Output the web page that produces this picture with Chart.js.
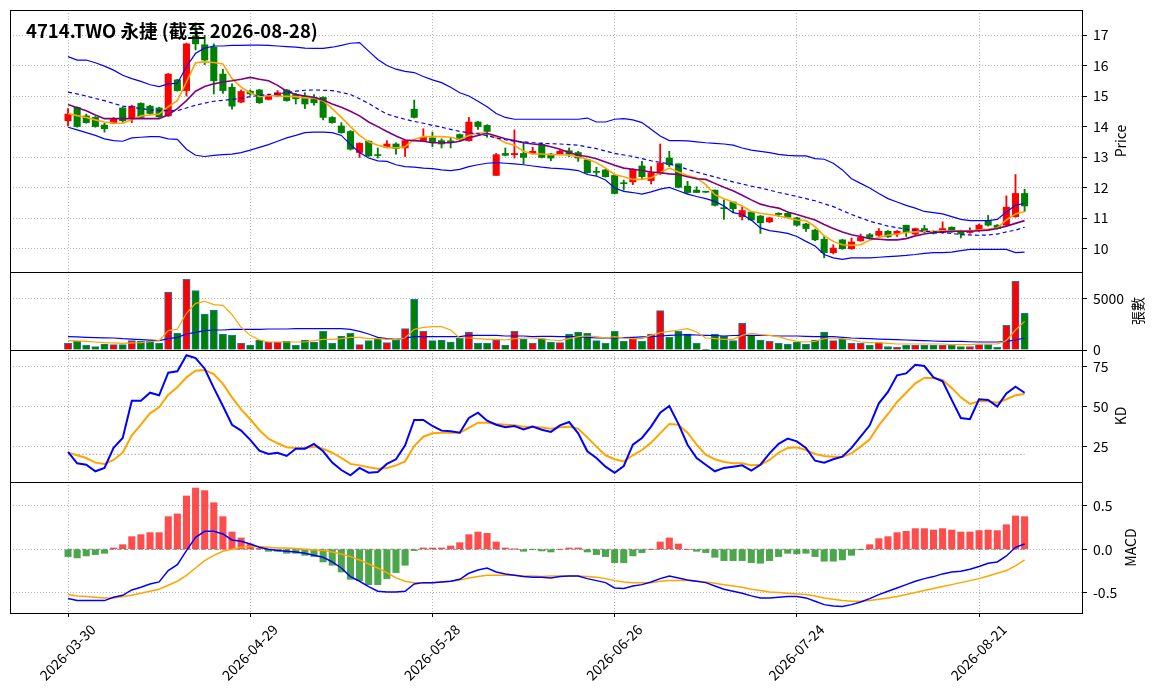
<!DOCTYPE html>
<html>
<head>
<meta charset="utf-8">
<script src="https://cdn.jsdelivr.net/npm/chart.js@4.4.1/dist/chart.umd.min.js"></script>
<style>
  body { margin: 0; background: #fff; width: 1155px; height: 698px; position: relative; overflow: hidden; }
  canvas { position: absolute; left: 0; }
</style>
</head>
<body>
<canvas id="cPrice" width="1155" height="290" style="top:0px"></canvas>
<canvas id="cVol" width="1155" height="100" style="top:262px"></canvas>
<canvas id="cKD" width="1155" height="155" style="top:340px"></canvas>
<canvas id="cMacd" width="1155" height="226" style="top:472px"></canvas>
<script>
// --- data ---
var dates = [
  '2026-03-30','2026-03-31','2026-04-01','2026-04-02','2026-04-07','2026-04-08','2026-04-09','2026-04-10',
  '2026-04-13','2026-04-14','2026-04-15','2026-04-16','2026-04-17','2026-04-20','2026-04-21','2026-04-22',
  '2026-04-23','2026-04-24','2026-04-27','2026-04-28','2026-04-29','2026-04-30',
  '2026-05-04','2026-05-05','2026-05-06','2026-05-07','2026-05-08','2026-05-11','2026-05-12','2026-05-13',
  '2026-05-14','2026-05-15','2026-05-18','2026-05-19','2026-05-20','2026-05-21','2026-05-22','2026-05-25',
  '2026-05-26','2026-05-27','2026-05-28','2026-05-29',
  '2026-06-01','2026-06-02','2026-06-03','2026-06-04','2026-06-05','2026-06-08','2026-06-09','2026-06-10',
  '2026-06-11','2026-06-12','2026-06-15','2026-06-16','2026-06-17','2026-06-18','2026-06-22','2026-06-23',
  '2026-06-24','2026-06-25','2026-06-26','2026-06-29','2026-06-30',
  '2026-07-01','2026-07-02','2026-07-03','2026-07-06','2026-07-07','2026-07-08','2026-07-09','2026-07-10',
  '2026-07-13','2026-07-14','2026-07-15','2026-07-16','2026-07-17','2026-07-20','2026-07-21','2026-07-22',
  '2026-07-23','2026-07-24','2026-07-27','2026-07-28','2026-07-29','2026-07-30','2026-07-31',
  '2026-08-03','2026-08-04','2026-08-05','2026-08-06','2026-08-07','2026-08-10','2026-08-11','2026-08-12',
  '2026-08-13','2026-08-14','2026-08-17','2026-08-18','2026-08-19','2026-08-20','2026-08-21','2026-08-24',
  '2026-08-25','2026-08-26','2026-08-27','2026-08-28'
];

var opens = [
  14.19,14.63,14.35,14.30,14.05,14.11,14.61,14.26,14.76,14.67,
  14.61,14.35,15.53,15.18,16.97,16.68,16.60,15.72,15.29,14.80,
  15.16,15.20,14.89,15.00,15.20,15.05,15.00,14.96,14.96,14.30,
  14.02,13.84,13.15,13.52,13.07,13.32,13.43,13.30,14.57,13.54,
  13.63,13.54,13.52,13.74,13.54,14.15,14.04,12.40,13.12,13.08,
  13.12,13.12,13.41,13.10,13.10,13.21,13.15,12.91,12.52,12.58,
  12.40,12.16,12.19,12.71,12.23,12.47,12.97,12.78,12.05,11.92,
  11.86,11.92,11.33,11.53,11.05,11.20,11.07,10.88,11.16,11.16,
  11.01,10.81,10.61,10.31,9.87,10.29,10.00,10.26,10.46,10.44,
  10.57,10.48,10.77,10.48,10.66,10.57,10.53,10.70,10.55,10.53,
  10.61,10.92,10.77,10.77,11.05,11.81
];
var highs = [
  14.59,14.65,14.41,14.33,14.11,14.30,14.63,14.70,14.78,14.70,
  14.63,15.74,15.55,16.73,17.40,16.99,16.71,15.88,15.40,15.20,
  15.20,15.22,15.07,15.18,15.22,15.09,15.11,15.05,14.98,14.33,
  14.13,13.87,13.47,13.54,13.30,13.54,13.47,13.56,14.87,13.93,
  13.82,13.60,13.63,13.76,14.30,14.17,14.06,13.12,13.30,13.89,
  13.50,13.32,13.47,13.12,13.23,13.30,13.19,12.93,12.67,12.60,
  12.43,12.25,12.62,12.86,12.69,13.43,13.19,12.78,12.21,12.03,
  11.87,11.92,11.60,11.53,11.36,11.22,11.09,11.03,11.18,11.18,
  11.03,10.83,10.64,10.42,10.13,10.31,10.35,10.48,10.50,10.66,
  10.59,10.59,10.77,10.68,10.77,10.59,10.88,10.72,10.61,10.68,
  10.81,11.09,10.79,11.73,12.43,11.95
];
var lows = [
  14.02,13.98,14.11,13.98,13.82,14.09,14.15,14.13,14.28,14.41,
  14.30,14.33,15.16,15.00,16.51,16.03,15.07,15.09,14.57,14.78,
  15.02,14.76,14.87,14.98,14.83,14.74,14.59,14.70,14.22,14.11,
  13.78,13.23,12.99,13.02,12.97,13.30,13.10,13.02,14.28,13.52,
  13.34,13.30,13.30,13.54,13.52,13.91,13.65,12.40,13.04,12.97,
  12.78,13.10,12.97,12.88,13.08,13.02,12.86,12.47,12.40,12.34,
  11.79,11.92,12.10,12.29,12.12,12.43,12.69,11.99,11.81,11.84,
  11.84,11.40,10.96,11.20,10.94,10.92,10.50,10.85,11.05,11.01,
  10.74,10.57,10.26,9.70,9.83,9.98,9.98,10.24,10.35,10.40,
  10.37,10.40,10.40,10.46,10.53,10.48,10.50,10.53,10.35,10.50,
  10.57,10.74,10.64,10.74,11.03,11.22
];
var closes = [
  14.41,14.00,14.13,14.00,13.93,14.24,14.19,14.67,14.30,14.43,
  14.32,15.72,15.18,16.71,16.71,16.18,15.50,15.18,14.67,15.15,
  15.07,14.78,15.02,15.11,14.85,14.91,14.74,14.78,14.30,14.13,
  13.80,13.26,13.45,13.04,13.05,13.43,13.28,13.54,14.30,13.65,
  13.47,13.43,13.50,13.58,14.15,14.00,13.84,13.08,13.06,13.12,
  12.99,13.19,12.99,12.97,13.19,13.10,12.97,12.49,12.50,12.36,
  11.81,12.13,12.60,12.36,12.49,12.80,12.75,12.01,11.84,11.84,
  11.85,11.42,11.31,11.31,11.25,10.94,10.85,11.01,11.12,11.03,
  10.77,10.66,10.29,9.87,10.02,10.00,10.22,10.37,10.37,10.57,
  10.39,10.57,10.53,10.66,10.55,10.50,10.66,10.55,10.48,10.57,
  10.77,10.77,10.66,11.36,11.81,11.40
];
var ma5 = [
  14.43,14.36,14.30,14.22,14.15,14.12,14.11,14.22,14.35,14.38,
  14.41,14.65,14.85,15.46,16.09,16.12,16.10,16.05,15.57,15.29,
  15.11,14.98,15.02,15.00,14.99,14.98,14.94,14.94,14.85,14.59,
  14.30,14.00,13.71,13.50,13.39,13.32,13.30,13.34,13.58,13.67,
  13.67,13.67,13.65,13.58,13.71,13.80,13.78,13.63,13.47,13.39,
  13.19,13.10,13.10,13.08,13.08,13.06,13.01,12.93,12.82,12.64,
  12.43,12.36,12.27,12.27,12.32,12.49,12.64,12.51,12.40,12.32,
  12.10,11.77,11.64,11.53,11.40,11.22,11.16,11.12,11.07,11.01,
  10.94,10.92,10.72,10.42,10.24,10.13,10.11,10.13,10.28,10.37,
  10.44,10.48,10.53,10.55,10.57,10.57,10.59,10.59,10.59,10.59,
  10.61,10.64,10.68,10.94,11.14,11.22
];
var ma10 = [
  14.72,14.62,14.52,14.38,14.26,14.26,14.26,14.26,14.26,14.26,
  14.26,14.39,14.59,14.85,15.16,15.31,15.40,15.46,15.50,15.55,
  15.61,15.55,15.50,15.35,15.16,15.05,15.00,14.96,14.87,14.74,
  14.63,14.50,14.35,14.15,14.00,13.84,13.69,13.56,13.54,13.52,
  13.47,13.47,13.47,13.52,13.63,13.71,13.78,13.69,13.60,13.54,
  13.47,13.43,13.41,13.34,13.26,13.15,13.06,13.02,12.95,12.84,
  12.73,12.64,12.60,12.56,12.51,12.49,12.45,12.43,12.36,12.29,
  12.27,12.14,12.01,11.90,11.75,11.60,11.46,11.38,11.33,11.20,
  11.12,11.03,10.94,10.79,10.66,10.55,10.46,10.40,10.33,10.31,
  10.29,10.29,10.33,10.42,10.48,10.53,10.55,10.57,10.57,10.57,
  10.59,10.61,10.66,10.74,10.83,10.92
];
var bbUpper = [
  16.29,16.18,16.18,16.09,15.98,15.85,15.68,15.57,15.48,15.37,
  15.31,15.40,15.42,15.96,16.40,16.57,16.64,16.64,16.66,16.66,
  16.67,16.67,16.66,16.64,16.62,16.60,16.57,16.56,16.56,16.60,
  16.66,16.73,16.75,16.47,16.20,16.00,15.88,15.81,15.77,15.64,
  15.53,15.44,15.29,15.11,15.00,14.83,14.65,14.43,14.30,14.24,
  14.24,14.24,14.24,14.24,14.24,14.24,14.24,14.28,14.15,14.15,
  14.24,14.26,14.22,14.13,13.91,13.69,13.54,13.54,13.53,13.50,
  13.47,13.45,13.43,13.39,13.30,13.23,13.19,13.15,13.09,13.06,
  13.04,13.04,12.95,12.93,12.80,12.58,12.29,12.14,11.99,11.81,
  11.64,11.53,11.42,11.33,11.22,11.18,11.14,11.05,10.96,10.92,
  10.92,10.92,10.96,11.20,11.42,11.49
];
var bbMid = [
  15.13,15.07,15.00,14.92,14.85,14.76,14.67,14.63,14.59,14.55,
  14.52,14.52,14.52,14.61,14.70,14.77,14.83,14.86,14.89,14.93,
  14.98,15.02,15.05,15.08,15.11,15.16,15.19,15.20,15.19,15.18,
  15.12,15.05,14.91,14.76,14.58,14.41,14.32,14.24,14.17,14.11,
  14.04,13.98,13.91,13.84,13.80,13.76,13.70,13.63,13.57,13.52,
  13.50,13.47,13.45,13.44,13.43,13.41,13.39,13.33,13.28,13.20,
  13.12,13.07,13.02,12.95,12.88,12.83,12.78,12.69,12.60,12.51,
  12.43,12.35,12.27,12.19,12.12,12.05,11.99,11.92,11.84,11.78,
  11.71,11.64,11.57,11.47,11.38,11.25,11.12,11.01,10.90,10.82,
  10.74,10.69,10.64,10.60,10.57,10.55,10.53,10.50,10.46,10.45,
  10.44,10.45,10.48,10.55,10.61,10.70
];
var bbLower = [
  13.98,13.89,13.80,13.71,13.60,13.54,13.52,13.63,13.65,13.67,
  13.67,13.60,13.58,13.26,13.06,13.02,13.06,13.08,13.10,13.15,
  13.23,13.32,13.41,13.52,13.63,13.71,13.80,13.82,13.82,13.80,
  13.71,13.41,13.15,12.97,12.88,12.86,12.75,12.69,12.67,12.64,
  12.62,12.58,12.56,12.60,12.69,12.75,12.80,12.82,12.80,12.78,
  12.75,12.71,12.67,12.64,12.62,12.60,12.56,12.43,12.38,12.25,
  11.99,11.88,11.84,11.79,11.86,11.95,12.01,11.90,11.79,11.71,
  11.64,11.55,11.40,11.18,11.12,10.94,10.68,10.59,10.55,10.50,
  10.40,10.24,10.09,9.81,9.70,9.65,9.70,9.70,9.70,9.72,
  9.74,9.76,9.78,9.81,9.85,9.87,9.87,9.89,9.94,9.98,
  9.98,9.98,9.98,9.98,9.87,9.89
];
var volumes = [
  645,840,450,320,580,516,516,900,840,840,
  645,5613,1613,6840,5742,3484,3871,1548,1419,645,
  450,968,774,774,840,450,968,774,1806,645,
  1355,1613,516,903,1097,710,968,2065,4903,1806,
  903,968,774,1161,1742,645,645,968,450,1806,
  1032,645,1097,774,710,1548,1742,1613,903,645,
  1806,839,1097,839,1548,3807,1226,1806,1548,645,
  60,1548,1355,903,2581,1419,968,839,645,580,
  774,580,968,1742,903,1032,645,645,452,710,
  323,258,452,452,452,452,452,452,323,323,
  516,516,258,2387,6645,3548
];
var volMa5 = [
  903,880,839,774,710,680,645,680,710,800,
  903,1871,2000,3549,4516,4710,4387,4323,3420,2194,
  1419,968,774,774,774,774,774,903,1032,1032,
  1097,1226,1226,1097,1097,1032,1032,1161,2000,2194,
  2258,2258,1935,1161,1161,1097,1032,1032,968,1097,
  1161,1161,1100,968,903,1097,1290,1355,1290,1161,
  1290,1161,1097,1097,1419,1677,1806,1935,2065,1742,
  1161,1097,1032,1032,1419,1613,1484,1419,1290,1032,
  839,774,839,1097,1161,1097,968,774,710,710,
  645,580,580,580,580,580,580,516,516,516,
  580,580,580,903,1935,2774
];
var volMa20 = [
  1290,1260,1230,1200,1180,1160,1100,1060,1000,950,
  903,1097,1226,1548,1700,1871,1935,1935,2000,2000,
  2000,2000,2030,2030,2030,2065,2065,2065,2065,2065,
  2065,2000,1806,1548,1226,1097,1032,1161,1290,1290,
  1290,1290,1290,1290,1419,1419,1419,1419,1355,1355,
  1355,1290,1320,1320,1290,1290,1290,1226,1161,1161,
  1161,1200,1226,1260,1290,1355,1419,1450,1484,1450,
  1419,1400,1355,1400,1419,1419,1419,1400,1355,1355,
  1355,1320,1290,1290,1290,1226,1161,1130,1097,1060,
  1032,1000,968,940,903,870,839,839,839,800,
  774,774,774,839,968,1161
];
var kLine = [
  21.5,14.4,13.5,9.4,11.5,24.0,30.2,53.5,53.5,58.5,
  56.9,71.0,71.9,81.9,80.2,73.5,61.5,50.2,38.5,34.8,
  29.0,22.3,20.2,21.0,19.0,23.5,23.5,26.5,21.9,14.8,
  10.2,6.9,11.5,8.5,9.0,14.0,16.9,25.6,41.5,41.5,
  37.7,34.8,34.4,33.5,42.7,46.0,41.0,38.5,36.9,37.7,
  35.6,37.3,35.4,34.0,38.1,40.2,33.1,21.9,17.7,12.3,
  8.5,12.7,26.0,30.2,37.3,46.0,50.2,39.0,26.0,17.7,
  13.5,9.4,11.5,12.3,13.1,9.8,13.5,20.6,26.5,29.8,
  28.1,24.0,16.0,14.8,16.9,18.5,24.0,31.0,38.1,51.9,
  59.0,69.4,70.6,76.0,75.2,68.1,65.6,54.0,42.7,41.9,
  54.4,54.0,49.8,58.1,62.3,58.5
];
var dLine = [
  21.0,19.4,17.7,14.8,14.0,16.5,21.0,31.9,38.5,45.6,
  49.4,57.3,61.9,68.1,72.3,72.7,70.2,64.0,55.6,48.1,
  41.9,35.2,29.8,26.9,24.4,24.0,24.0,24.8,23.5,21.0,
  17.7,14.0,13.1,11.9,11.0,11.5,13.1,15.6,25.2,31.0,
  33.1,33.5,33.5,33.5,36.5,39.8,39.8,39.0,38.5,38.1,
  37.3,37.3,36.7,36.0,36.9,37.3,36.0,30.6,24.8,19.4,
  16.9,15.6,19.4,22.7,27.3,33.1,39.0,38.5,33.5,26.0,
  19.8,16.9,15.2,14.4,14.4,13.1,13.5,16.5,21.0,24.0,
  24.4,22.7,20.2,19.0,18.5,18.5,20.6,24.8,29.4,38.1,
  45.2,52.7,58.5,64.4,67.7,67.7,66.5,61.5,55.6,51.5,
  53.1,53.1,52.3,54.4,56.9,57.7
];
var kdLevels = [20, 80];
var macdDif = [
  -0.565,-0.588,-0.588,-0.588,-0.588,-0.550,-0.527,-0.466,-0.435,-0.397,
  -0.374,-0.244,-0.176,-0.015,0.137,0.206,0.206,0.176,0.107,0.092,
  0.061,0.023,0.000,-0.015,-0.023,-0.031,-0.046,-0.069,-0.092,-0.145,
  -0.214,-0.313,-0.366,-0.427,-0.481,-0.489,-0.489,-0.481,-0.397,-0.382,
  -0.382,-0.374,-0.366,-0.344,-0.275,-0.237,-0.214,-0.260,-0.282,-0.298,
  -0.313,-0.321,-0.321,-0.328,-0.313,-0.305,-0.305,-0.336,-0.359,-0.382,
  -0.443,-0.450,-0.420,-0.405,-0.374,-0.336,-0.305,-0.328,-0.351,-0.366,
  -0.382,-0.420,-0.458,-0.481,-0.504,-0.534,-0.557,-0.557,-0.550,-0.542,
  -0.542,-0.557,-0.595,-0.634,-0.649,-0.656,-0.634,-0.603,-0.565,-0.519,
  -0.481,-0.443,-0.405,-0.366,-0.336,-0.313,-0.282,-0.260,-0.252,-0.229,
  -0.198,-0.160,-0.145,-0.076,0.023,0.061
];
var macdSignal = [
  -0.519,-0.534,-0.542,-0.550,-0.557,-0.557,-0.542,-0.527,-0.504,-0.481,
  -0.458,-0.412,-0.366,-0.298,-0.214,-0.130,-0.069,-0.023,0.000,0.023,
  0.031,0.031,0.023,0.015,0.015,0.008,0.000,-0.008,-0.015,-0.031,
  -0.053,-0.084,-0.122,-0.168,-0.214,-0.267,-0.328,-0.366,-0.382,-0.382,
  -0.382,-0.374,-0.366,-0.351,-0.328,-0.313,-0.298,-0.298,-0.298,-0.298,
  -0.305,-0.305,-0.313,-0.305,-0.305,-0.305,-0.305,-0.313,-0.321,-0.336,
  -0.359,-0.374,-0.382,-0.382,-0.382,-0.366,-0.359,-0.359,-0.359,-0.366,
  -0.374,-0.389,-0.405,-0.420,-0.435,-0.458,-0.473,-0.489,-0.496,-0.504,
  -0.511,-0.519,-0.534,-0.557,-0.573,-0.588,-0.595,-0.595,-0.588,-0.573,
  -0.557,-0.542,-0.519,-0.496,-0.473,-0.450,-0.427,-0.405,-0.382,-0.359,
  -0.336,-0.305,-0.275,-0.244,-0.191,-0.122
];
var macdOsc = [
  -0.084,-0.099,-0.076,-0.061,-0.046,0.015,0.053,0.145,0.168,0.191,
  0.191,0.374,0.405,0.611,0.702,0.672,0.534,0.374,0.198,0.130,
  0.061,0.010,-0.023,-0.023,-0.046,-0.046,-0.069,-0.084,-0.145,-0.183,
  -0.260,-0.344,-0.359,-0.405,-0.405,-0.336,-0.267,-0.183,-0.015,0.015,
  0.015,0.015,0.038,0.076,0.168,0.198,0.183,0.084,0.015,0.003,
  -0.023,-0.005,-0.019,-0.031,0.000,0.015,0.015,-0.031,-0.061,-0.084,
  -0.153,-0.153,-0.076,-0.038,0.000,0.084,0.130,0.061,0.000,-0.023,
  -0.038,-0.092,-0.130,-0.130,-0.130,-0.153,-0.160,-0.130,-0.084,-0.046,
  -0.053,-0.046,-0.084,-0.137,-0.137,-0.122,-0.069,-0.003,0.053,0.122,
  0.145,0.191,0.206,0.237,0.237,0.221,0.237,0.221,0.198,0.198,
  0.214,0.221,0.214,0.282,0.382,0.374
];

var xTickIdx = [0, 20, 40, 60, 80, 100];
var priceTicks = [10, 11, 12, 13, 14, 15, 16, 17];
var volTicks = [0, 5000];
var kdTicks = [25, 50, 75];
var macdTicks = [-0.5, 0, 0.5];

// --- look ---
var FONT_FAMILY = '"Noto Sans CJK TC", "Noto Sans", sans-serif';
var TICK_FONT = { family: FONT_FAMILY, size: 14 };
var GRID = '#b4b4b4';
var UP = '#ff0000', DOWN = '#008000';
var X_MIN = -6.37, X_MAX = 111.41;

Chart.defaults.animation = false;
Chart.defaults.font.family = FONT_FAMILY;
Chart.defaults.plugins.legend.display = false;
Chart.defaults.plugins.tooltip.enabled = false;

var idx = dates.map(function(d, i) { return i; });
function pts(arr) { return arr.map(function(v, i) { return { x: i, y: v }; }); }
var candleColors = closes.map(function(c, i) { return c >= opens[i] ? UP : DOWN; });

function xScale(showLabels) {
  return {
    type: 'linear', min: X_MIN, max: X_MAX, offset: false,
    afterBuildTicks: function(s) { s.ticks = xTickIdx.map(function(v) { return { value: v }; }); },
    grid: { color: GRID, offset: false, drawTicks: showLabels, tickLength: 4, tickColor: '#000', tickWidth: 1, tickBorderDash: [] },
    border: { display: false, dash: [1, 2] },
    ticks: {
      display: showLabels, autoSkip: false, minRotation: 45, maxRotation: 45,
      labelOffset: 25, padding: 4, color: '#000', font: TICK_FONT,
      callback: function(v) { return dates[v]; }
    },
    afterFit: function(s) { s.height = showLabels ? 85 : 0; s.paddingLeft = 0; s.paddingRight = 0; }
  };
}

function yScale(min, max, ticks, fmt) {
  return {
    type: 'linear', position: 'right', min: min, max: max,
    afterBuildTicks: function(s) { s.ticks = ticks.map(function(v) { return { value: v }; }); },
    grid: { color: GRID, tickLength: 4, tickColor: '#000', tickWidth: 1, tickBorderDash: [] },
    border: { display: false, dash: [1, 2] },
    ticks: { color: '#000', padding: 6, font: TICK_FONT, callback: fmt },
    afterFit: function(s) { s.width = 72; s.paddingTop = 0; s.paddingBottom = 0; }
  };
}

// frame around each panel, its axis title and the chart title
var panelPlugin = {
  id: 'panel',
  afterDraw: function(chart, args, opts) {
    var ctx = chart.ctx, a = chart.chartArea;
    ctx.save();
    ctx.strokeStyle = '#000';
    ctx.lineWidth = 1;
    ctx.strokeRect(a.left + 0.5, a.top + 0.5, a.right - a.left - 1, a.bottom - a.top);
    ctx.fillStyle = '#000';
    ctx.font = '14px ' + FONT_FAMILY;
    ctx.textAlign = 'center';
    ctx.textBaseline = 'middle';
    ctx.translate(opts.titleX, (a.top + a.bottom) / 2);
    ctx.rotate(-Math.PI / 2);
    ctx.fillText(opts.yTitle, 0, 0);
    ctx.restore();
    if (opts.chartTitle) {
      ctx.save();
      ctx.fillStyle = '#000';
      ctx.font = 'bold 18.5px ' + FONT_FAMILY;
      ctx.textAlign = 'left';
      ctx.textBaseline = 'middle';
      ctx.fillText(opts.chartTitle, 26, 31);
      ctx.restore();
    }
  }
};

function lineDs(arr, color, width, dash) {
  return { type: 'line', data: pts(arr), borderColor: color, borderWidth: width,
           borderDash: dash || [], pointRadius: 0, tension: 0, order: 1 };
}

// price panel
new Chart(document.getElementById('cPrice'), {
  type: 'bar',
  data: {
    datasets: [
      lineDs(bbUpper, '#0000ff', 1.2),
      lineDs(bbLower, '#0000ff', 1.2),
      lineDs(bbMid, '#0000ff', 1.2, [4, 3]),
      lineDs(ma10, '#800080', 1.6),
      lineDs(ma5, '#ffa500', 1.6),
      { type: 'bar', data: idx.map(function(i) { return { x: i, y: [lows[i], highs[i]] }; }),
        backgroundColor: candleColors, barThickness: 1.2, grouped: false, order: 3 },
      { type: 'bar', data: idx.map(function(i) { return { x: i, y: [opens[i], closes[i]] }; }),
        backgroundColor: candleColors, barThickness: 6.4, grouped: false, minBarLength: 1, order: 2 }
    ]
  },
  options: {
    responsive: false,
    devicePixelRatio: 1,
    layout: { padding: { left: 10, right: 0, top: 10, bottom: 18 } },
    scales: {
      x: xScale(false),
      y: yScale(9.237, 17.819, priceTicks, function(v) { return String(v); })
    },
    plugins: { panel: { yTitle: 'Price', titleX: 1121, chartTitle: '4714.TWO 永捷 (截至 2026-08-28)' } }
  },
  plugins: [panelPlugin]
});

// volume panel
new Chart(document.getElementById('cVol'), {
  type: 'bar',
  data: {
    datasets: [
      lineDs(volMa5, '#ffa500', 1.2),
      lineDs(volMa20, '#0000ff', 1.2),
      { type: 'bar', data: pts(volumes), backgroundColor: candleColors, borderColor: '#1f77b4',
        borderWidth: 1, barThickness: 7.3, grouped: false, order: 2 }
    ]
  },
  options: {
    responsive: false,
    devicePixelRatio: 1,
    layout: { padding: { left: 10, right: 0, top: 10, bottom: 12 } },
    scales: {
      x: xScale(false),
      y: yScale(0, 7544, volTicks, function(v) { return String(v); })
    },
    plugins: { panel: { yTitle: '張數', titleX: 1138 } }
  },
  plugins: [panelPlugin]
});

// KD panel
new Chart(document.getElementById('cKD'), {
  type: 'line',
  data: {
    datasets: [
      { type: 'line', data: [{ x: 0, y: kdLevels[1] }, { x: idx.length - 1, y: kdLevels[1] }],
        borderColor: '#a0a0a0', borderWidth: 1, borderDash: [1.5, 2], pointRadius: 0, order: 3 },
      { type: 'line', data: [{ x: 0, y: kdLevels[0] }, { x: idx.length - 1, y: kdLevels[0] }],
        borderColor: '#a0a0a0', borderWidth: 1, borderDash: [1.5, 2], pointRadius: 0, order: 3 },
      lineDs(kLine, '#0000ff', 2),
      lineDs(dLine, '#ffa500', 2)
    ]
  },
  options: {
    responsive: false,
    devicePixelRatio: 1,
    layout: { padding: { left: 10, right: 0, top: 10, bottom: 13 } },
    scales: {
      x: xScale(false),
      y: yScale(2.7, 85.2, kdTicks, function(v) { return String(v); })
    },
    plugins: { panel: { yTitle: 'KD', titleX: 1121 } }
  },
  plugins: [panelPlugin]
});

// MACD panel
new Chart(document.getElementById('cMacd'), {
  type: 'bar',
  data: {
    datasets: [
      { type: 'line', data: [{ x: 0, y: 0 }, { x: idx.length - 1, y: 0 }],
        borderColor: '#909090', borderWidth: 1, borderDash: [4, 3], pointRadius: 0, order: 3 },
      lineDs(macdDif, '#0000ff', 1.5),
      lineDs(macdSignal, '#ffa500', 1.5),
      { type: 'bar', data: pts(macdOsc),
        backgroundColor: macdOsc.map(function(v) { return v >= 0 ? 'rgba(255,0,0,0.7)' : 'rgba(0,128,0,0.7)'; }),
        barThickness: 6.4, grouped: false, order: 2 }
    ]
  },
  options: {
    responsive: false,
    devicePixelRatio: 1,
    layout: { padding: { left: 10, right: 0, top: 10, bottom: 0 } },
    scales: {
      x: xScale(true),
      y: yScale(-0.730, 0.771, macdTicks, function(v) { return v.toFixed(1); })
    },
    plugins: { panel: { yTitle: 'MACD', titleX: 1131 } }
  },
  plugins: [panelPlugin]
});
</script>
</body>
</html>
